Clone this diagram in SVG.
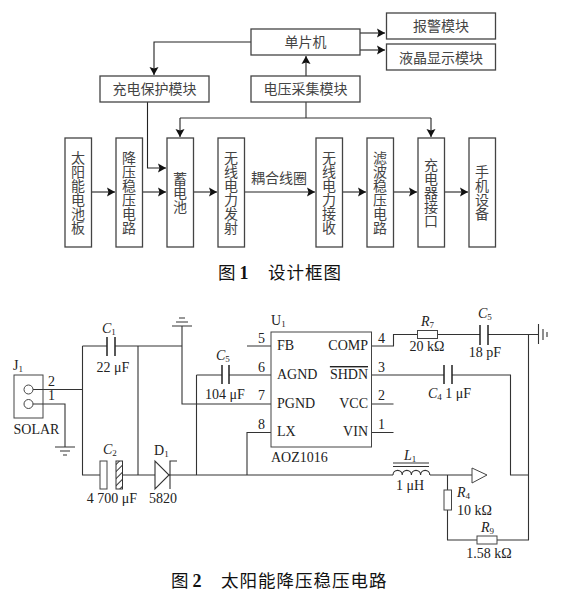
<svg xmlns="http://www.w3.org/2000/svg" width="563" height="602" viewBox="0 0 563 602">
<style>
text{fill:#222}
.z{font-family:"Noto Sans CJK SC",sans-serif;font-size:14px;fill:#444}
.m{text-anchor:middle}
.v{writing-mode:vertical-rl;text-anchor:middle}
.l{font-family:"Liberation Serif",serif;font-size:14px;fill:#222}
.i{font-style:italic}
.cap{font-family:"Noto Sans CJK SC",sans-serif;font-size:17.5px;fill:#111;letter-spacing:1px}
.capn{font-family:"Liberation Serif",serif;font-weight:bold;font-size:18px;fill:#111}
.box{fill:#fff;stroke:#444;stroke-width:1.3}
.w{fill:none;stroke:#333;stroke-width:1.1}
.a{fill:none;stroke:#222;stroke-width:1.1}
.aa{marker-end:url(#ar)}
.p{fill:#fff;stroke:#444;stroke-width:1}
.t{stroke:#222;stroke-width:1.5;fill:none}
</style>
<defs>
<marker id="ar" markerUnits="userSpaceOnUse" markerWidth="10" markerHeight="10" refX="8" refY="5" orient="auto"><path d="M0 0.5L8 5L0 9.500L1.500 5Z" fill="#111"/></marker>
<pattern id="hatch" patternUnits="userSpaceOnUse" width="5" height="5" patternTransform="rotate(-45)"><rect width="5" height="5" fill="#fff"/><line x1="0" y1="0" x2="5" y2="0" stroke="#333" stroke-width="2"/></pattern>
</defs>

<g id="connectors-block">
<path class="a aa" d="M251 42H154V75"/>
<path class="a aa" d="M147.500 102V168H166"/>
<path class="w" d="M180 118H431M306 102V118"/>
<path class="a aa" d="M180 118V137"/>
<path class="a aa" d="M431 118V137"/>
<path class="a aa" d="M306 76V56"/>
<path class="a aa" d="M360 33H385"/>
<path class="a aa" d="M360 50H385"/>
<path class="a aa" d="M91.500 192H115"/>
<path class="a aa" d="M142.500 192H166"/>
<path class="a aa" d="M193.500 192H217"/>
<path class="a aa" d="M244.500 192H315"/>
<path class="a aa" d="M342.500 192H366"/>
<path class="a aa" d="M393.500 192H417"/>
<path class="a aa" d="M444.500 192H468"/>
</g>

<g id="n-solar"><rect class="box" x="65" y="138" width="26.500" height="109"/><text class="z v" x="78" y="193">太阳能电池板</text></g>
<g id="n-buck"><rect class="box" x="116" y="138" width="26.500" height="109"/><text class="z v" x="129" y="193">降压稳压电路</text></g>
<g id="n-battery"><rect class="box" x="167" y="138" width="26.500" height="109"/><text class="z v" x="180" y="193">蓄电池</text></g>
<g id="n-tx"><rect class="box" x="218" y="138" width="26.500" height="109"/><text class="z v" x="231" y="193">无线电力发射</text></g>
<g id="n-rx"><rect class="box" x="316" y="138" width="26.500" height="109"/><text class="z v" x="329" y="193">无线电力接收</text></g>
<g id="n-filter"><rect class="box" x="367" y="138" width="26.500" height="109"/><text class="z v" x="380" y="193">滤波稳压电路</text></g>
<g id="n-port"><rect class="box" x="418" y="138" width="26.500" height="109"/><text class="z v" x="431" y="193">充电器接口</text></g>
<g id="n-phone"><rect class="box" x="469" y="138" width="26.500" height="109"/><text class="z v" x="482" y="193">手机设备</text></g>
<g id="n-protect"><rect class="box" x="100" y="76" width="109" height="26"/><text class="z m" x="154.500" y="94">充电保护模块</text></g>
<g id="n-sense"><rect class="box" x="251" y="76" width="109" height="26"/><text class="z m" x="305.500" y="94">电压采集模块</text></g>
<g id="n-mcu"><rect class="box" x="251" y="29" width="109" height="26"/><text class="z m" x="305.500" y="47">单片机</text></g>
<g id="n-alarm"><rect class="box" x="386.500" y="13" width="109" height="26"/><text class="z m" x="441" y="31">报警模块</text></g>
<g id="n-lcd"><rect class="box" x="386.500" y="44" width="109" height="26"/><text class="z m" x="441" y="63">液晶显示模块</text></g>
<text class="z" x="251" y="183">耦合线圈</text>
<text class="cap" x="218" y="279">图<tspan class="capn" dx="3">1</tspan></text>
<text class="cap" x="268" y="279">设计框图</text>

<g id="connectors-circuit">
<path class="w" d="M33 389.500H82.500M33 404H65V447M82.500 346V475H100M82.500 346H107M115 346H182V326M138 346V475M182 346V404H271M196.500 375V475M196.500 375H222M229 375H271M247 346H271M247 475V432.500H271M122.500 475H155M169 475H393M430 475H472M372 346H393.500V334.500H417.500M437.500 334.500H480M488 334.500H538.500M528.500 334.500V540H497M372 375H444M452 375H510.500V475H528.500M372 404H393.500M372 432.500H393.500M447.500 475V490M447.500 510V540H477"/>
</g>
<g id="ground-1"><path class="w" d="M55 447H75M60 451H70M63 455H67"/></g>
<g id="ground-2"><path class="w" d="M172 326H192M176 322H188M179 318H185"/></g>
<g id="ground-3"><path class="w" d="M538.500 324V344M543 329V340M547 332V337"/></g>
<g id="J1"><rect class="p" x="14" y="375" width="29" height="43"/><path class="w" d="M33 389.500H43M33 404H43"/><circle class="p" cx="28.500" cy="389.500" r="4.500"/><circle class="p" cx="28.500" cy="404" r="4.500"/><text class="l" x="13" y="370">J<tspan font-size="9" dy="2">1</tspan></text><text class="l" x="48" y="386">2</text><text class="l" x="48" y="400">1</text><text class="l" x="13.500" y="434">SOLAR</text></g>
<g id="C1"><path class="t" d="M107 337V356M115 337V356"/><text class="l i" x="102" y="333">C<tspan font-size="9" font-style="normal" dy="2">1</tspan></text><text class="l m" x="113" y="372">22 μF</text></g>
<g id="C2"><rect class="p" x="100" y="461" width="7" height="28"/><rect x="116" y="461" width="6.500" height="28" fill="url(#hatch)" stroke="#333"/><text class="l i" x="103" y="454">C<tspan font-size="9" font-style="normal" dy="2">2</tspan></text><text class="l m" x="112" y="503">4 700 μF</text></g>
<g id="D1"><path class="w" d="M155 461V489L169 475ZM177 461H170V489"/><text class="l" x="154" y="455">D<tspan font-size="9" dy="2">1</tspan></text><text class="l" x="149" y="503">5820</text></g>
<g id="C5a"><path class="t" d="M222 365V384M229 365V384"/><text class="l i" x="216" y="360">C<tspan font-size="9" font-style="normal" dy="2">5</tspan></text><text class="l" x="205" y="399">104 μF</text></g>
<g id="U1"><rect class="p" x="271" y="332" width="100.500" height="115" stroke-width="1.2"/>
<text class="l" x="271" y="325">U<tspan font-size="9" dy="2">1</tspan></text>
<text class="l" x="277" y="350">FB</text><text class="l" x="277" y="379">AGND</text><text class="l" x="277" y="408">PGND</text><text class="l" x="277" y="436">LX</text>
<text class="l" x="368" y="350" text-anchor="end">COMP</text><text class="l" x="368" y="379" text-anchor="end" text-decoration="overline">SHDN</text><text class="l" x="368" y="408" text-anchor="end">VCC</text><text class="l" x="368" y="436" text-anchor="end">VIN</text>
<text class="l" x="258" y="343">5</text><text class="l" x="258" y="372">6</text><text class="l" x="258" y="400">7</text><text class="l" x="258" y="429">8</text>
<text class="l" x="378" y="343">4</text><text class="l" x="378" y="372">3</text><text class="l" x="378" y="400">2</text><text class="l" x="378" y="429">1</text>
<text class="l" x="271" y="462">AOZ1016</text></g>
<g id="R7"><rect class="p" x="417.500" y="330.500" width="20" height="8"/><text class="l i" x="421" y="326">R<tspan font-size="9" font-style="normal" dy="2">7</tspan></text><text class="l m" x="427" y="351">20 kΩ</text></g>
<g id="C5b"><path class="t" d="M480 325V345M488 325V345"/><text class="l i" x="478" y="318">C<tspan font-size="9" font-style="normal" dy="2">5</tspan></text><text class="l m" x="485" y="357">18 pF</text></g>
<g id="C4"><path class="t" d="M444 365V384M452 365V384"/><text class="l i" x="428" y="398">C<tspan font-size="9" font-style="normal" dy="2">4</tspan><tspan font-style="normal" dy="-2"> 1 μF</tspan></text></g>
<g id="L1"><path class="w" d="M393 463H429M393 466.500H429M393 475a4.600 4.600 0 0 1 9.200 0a4.600 4.600 0 0 1 9.200 0a4.600 4.600 0 0 1 9.200 0a4.600 4.600 0 0 1 9.200 0"/><text class="l i" x="404" y="460">L<tspan font-size="9" font-style="normal" dy="2">1</tspan></text><text class="l m" x="410" y="490">1 μH</text></g>
<g id="out"><path class="p" d="M472 468V483L487 475Z" stroke="#333"/></g>
<g id="R4"><rect class="p" x="444" y="490" width="7.500" height="20"/><text class="l i" x="457" y="497">R<tspan font-size="9" font-style="normal" dy="2">4</tspan></text><text class="l" x="457" y="515">10 kΩ</text></g>
<g id="R9"><rect class="p" x="477" y="536" width="20" height="8"/><text class="l i" x="481" y="532">R<tspan font-size="9" font-style="normal" dy="2">9</tspan></text><text class="l m" x="489" y="558">1.58 kΩ</text></g>
<text class="cap" x="171" y="587">图<tspan class="capn" dx="3">2</tspan></text>
<text class="cap" x="221" y="587">太阳能降压稳压电路</text>
</svg>
